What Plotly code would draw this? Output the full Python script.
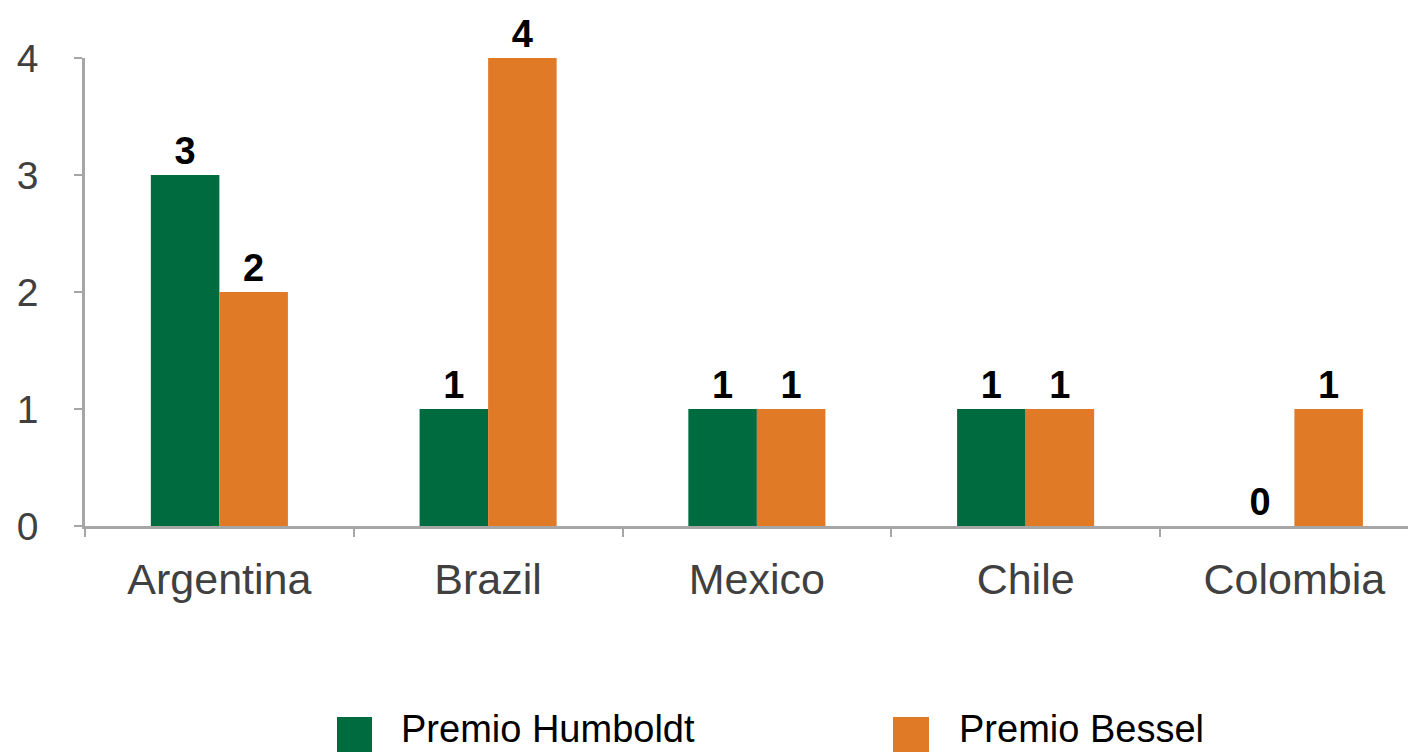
import plotly.graph_objects as go

countries = ["Argentina", "Brazil", "Mexico", "Chile", "Colombia"]
humboldt = [3, 1, 1, 1, 0]
bessel = [2, 4, 1, 1, 1]
series_names = ["Premio Humboldt", "Premio Bessel"]
colors = ["#006B3F", "#E17A26"]
y_ticks = [0, 1, 2, 3, 4]

FONT = "Liberation Sans, Arial, sans-serif"

fig = go.Figure()
for name, vals, col in zip(series_names, [humboldt, bessel], colors):
    fig.add_trace(go.Bar(
        x=countries, y=vals, name=name,
        marker=dict(color=col, line=dict(width=0)),
        text=vals, texttemplate="<b>%{y}</b>",
        textposition="outside", cliponaxis=False,
        textfont=dict(family=FONT, size=38, color="#000000"),
        showlegend=False,
    ))

# page has an 8px body margin, so figure coordinates are offset by 8px
OFF = 8
W, H = 1416, 752
ml, mt = 85 - OFF, 58 - OFF
mb = H - (526 - OFF)
mr = 0
pw = W - ml - mr
ph = H - mt - mb

def px(x):
    return (x - OFF - ml) / pw

def py(y):
    return (H - mb - (y - OFF)) / ph

# legend drawn manually (large square swatches)
leg_sq_x = [(337, 372), (893, 929)]
leg_txt_x = [402, 960]
for (x0, x1), tx, name, col in zip(leg_sq_x, leg_txt_x, series_names, colors):
    fig.add_shape(type="rect", xref="paper", yref="paper",
                  x0=px(x0), x1=px(x1), y0=py(717), y1=py(754),
                  fillcolor=col, line=dict(width=0))
    fig.add_annotation(xref="paper", yref="paper", x=px(tx - 2), y=py(751),
                       xanchor="left", yanchor="bottom", showarrow=False,
                       borderpad=0,
                       text=name, font=dict(family=FONT, size=38, color="#000000"))

# x range extends past the right edge like the original
cat_w = 268.75
right_extra = (ml + 5 * cat_w - W) / cat_w

fig.update_layout(
    width=W, height=H,
    margin=dict(l=ml, r=mr, t=mt, b=mb),
    paper_bgcolor="white", plot_bgcolor="white",
    barmode="group", bargap=0.49, bargroupgap=0,
    font=dict(family=FONT, color="#404040"),
    xaxis=dict(
        type="category", range=[-0.5, 4.5 - right_extra],
        showline=True, linecolor="#A6A6A6", linewidth=2.5,
        ticks="outside", tickson="boundaries", ticklen=8,
        tickcolor="#A6A6A6", tickwidth=2,
        tickfont=dict(family=FONT, size=43, color="#404040"),
        ticklabelstandoff=14,
        showgrid=False, zeroline=False,
    ),
    yaxis=dict(
        range=[0, 4], tickvals=y_ticks,
        showline=True, linecolor="#A6A6A6", linewidth=2.5,
        ticks="outside", ticklen=8, tickcolor="#A6A6A6", tickwidth=2,
        tickfont=dict(family=FONT, size=39, color="#404040"),
        ticklabelstandoff=28,
        showgrid=False, zeroline=False,
    ),
)

fig.write_html("out.html")
